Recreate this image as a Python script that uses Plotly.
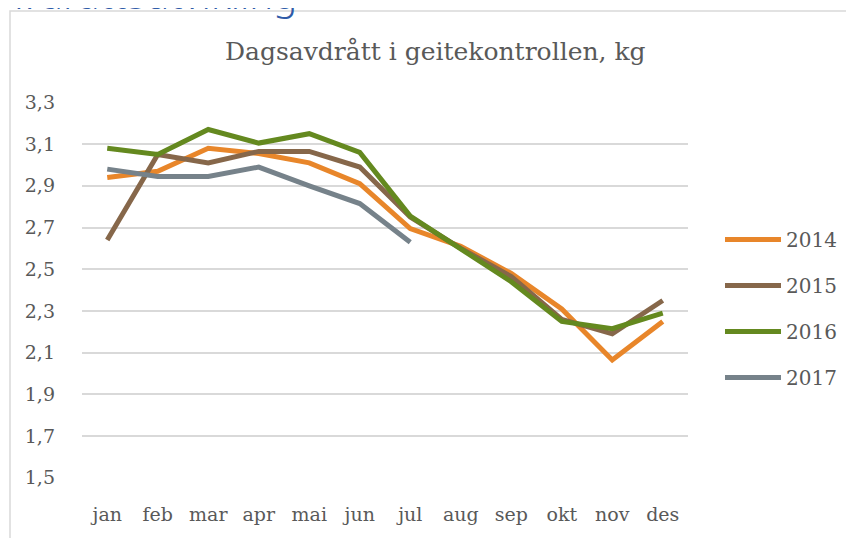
import plotly.graph_objects as go

months = ["jan", "feb", "mar", "apr", "mai", "jun", "jul", "aug", "sep", "okt", "nov", "des"]
y2014 = [2.94, 2.97, 3.08, 3.055, 3.01, 2.91, 2.695, 2.61, 2.48, 2.31, 2.065, 2.25]
y2015 = [2.64, 3.05, 3.01, 3.065, 3.065, 2.99, 2.75, 2.60, 2.465, 2.26, 2.19, 2.35]
y2016 = [3.08, 3.05, 3.17, 3.105, 3.15, 3.06, 2.755, 2.60, 2.44, 2.25, 2.215, 2.29]
y2017 = [2.98, 2.945, 2.945, 2.99, 2.90, 2.815, 2.63]
series_names = ["2014", "2015", "2016", "2017"]
series_colors = ["#E8862A", "#86674A", "#64891F", "#76828A"]
ytick_vals = [1.5, 1.7, 1.9, 2.1, 2.3, 2.5, 2.7, 2.9, 3.1, 3.3]
ytick_text = ["1,5", "1,7", "1,9", "2,1", "2,3", "2,5", "2,7", "2,9", "3,1", "3,3"]
title_text = "Dagsavdrått i geitekontrollen, kg"
heading_text = "Avdråttsutvikling"

W, H = 854, 538
OFF = 8  # page body margin in the browser
L, R, T, B = 82 - OFF, 688 - OFF, 102 - OFF, 478 - OFF  # plot area, figure pixels

def px(x):  # screen pixel -> paper
    return (x - OFF - L) / (R - L)

def py(y):
    return (B - (y - OFF)) / (B - T)

serif = "DejaVu Serif, serif"

fig = go.Figure()
for i, (name, vals) in enumerate(zip(series_names, [y2014, y2015, y2016, y2017])):
    fig.add_trace(go.Scatter(
        x=months[:len(vals)], y=vals, mode="lines", name=name,
        line=dict(color=series_colors[i], width=5),
        legendgroup=name,
    ))

fig.update_layout(
    width=W, height=H,
    margin=dict(l=L, r=W - R, t=T, b=H - B, pad=0),
    paper_bgcolor="white", plot_bgcolor="white",
    font=dict(family=serif, color="#595959", size=19),
    showlegend=True,
    legend=dict(
        x=px(720), y=py(220), xanchor="left", yanchor="top",
        font=dict(family=serif, size=20, color="#595959"),
        traceorder="grouped", tracegroupgap=17, itemwidth=56,
        bgcolor="rgba(0,0,0,0)",
    ),
    xaxis=dict(
        type="category", categoryorder="array", categoryarray=months,
        range=[-0.5, 11.5], showgrid=False, showline=False, zeroline=False,
        ticks="", tickfont=dict(size=19, family=serif, color="#595959"),
        ticklabelstandoff=23,
    ),
    yaxis=dict(
        range=[1.499, 3.302], tickvals=ytick_vals, ticktext=ytick_text,
        showgrid=True, gridcolor="#D9D9D9", gridwidth=1.5,
        showline=False, zeroline=False, ticks="",
        tickfont=dict(size=19, family=serif, color="#595959"),
        ticklabelstandoff=26,
    ),
    annotations=[
        dict(text=title_text, x=px(435), y=py(52), xref="paper", yref="paper",
             xanchor="center", yanchor="middle", showarrow=False,
             font=dict(family=serif, size=25, color="#595959")),
        dict(text=heading_text, x=px(-6), y=py(23), xref="paper", yref="paper",
             xanchor="left", yanchor="bottom", showarrow=False,
             font=dict(family="Noto Sans, sans-serif", size=40, color="#2F5BA8", weight=300)),
    ],
    shapes=[
        dict(type="rect", xref="paper", yref="paper",
             x0=px(10), x1=px(900), y0=py(11), y1=py(600),
             line=dict(color="#D9D9D9", width=1.5), fillcolor="rgba(0,0,0,0)", layer="below"),
    ],
)

fig.write_html("out.html")
